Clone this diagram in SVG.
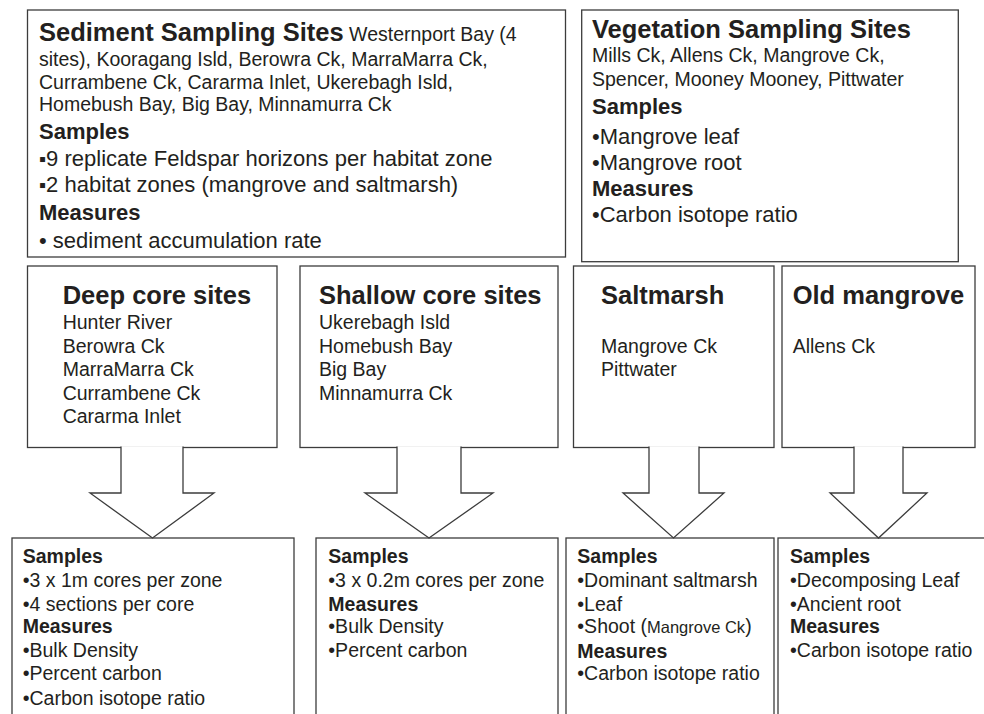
<svg xmlns="http://www.w3.org/2000/svg" width="984" height="714" viewBox="0 0 984 714">
<style>
text{font-family:"Liberation Sans",Arial,Helvetica,sans-serif;fill:#231f20}
.ti{font-size:25.5px;font-weight:bold}
.b{font-size:19.5px}
.h{font-size:22px;font-weight:bold}
.m{font-size:22px}
.hs{font-size:19.5px;font-weight:bold}
.sm{font-size:16.5px}
.box{fill:#fff;stroke:#3c3c3c;stroke-width:1.3}
.arr{fill:#fff;stroke:#3c3c3c;stroke-width:1.3;stroke-linejoin:miter}
</style>
<rect width="984" height="714" fill="#fff"/>

<g id="sediment-sites">
<rect class="box" x="27.5" y="10" width="538" height="247"/>
<text x="39" y="41"><tspan class="ti">Sediment Sampling Sites</tspan><tspan class="b"> Westernport Bay (4</tspan></text>
<text class="b" x="39" y="65.5">sites), Kooragang Isld, Berowra Ck, MarraMarra Ck,</text>
<text class="b" x="39" y="88.5">Currambene Ck, Cararma Inlet, Ukerebagh Isld,</text>
<text class="b" x="39" y="111">Homebush Bay, Big Bay, Minnamurra Ck</text>
<text class="h" x="39" y="139">Samples</text>
<text class="m" x="39" y="166"><tspan font-size="20">▪</tspan>9 replicate Feldspar horizons per habitat zone</text>
<text class="m" x="39" y="192"><tspan font-size="20">▪</tspan>2 habitat zones (mangrove and saltmarsh)</text>
<text class="h" x="39" y="220">Measures</text>
<text class="m" x="39" y="248">• sediment accumulation rate</text>
</g>

<g id="vegetation-sites">
<rect class="box" x="581.7" y="10" width="376.6" height="251.7"/>
<text class="ti" x="592" y="38">Vegetation Sampling Sites</text>
<text class="b" x="592" y="62">Mills Ck, Allens Ck, Mangrove Ck,</text>
<text class="b" x="592" y="86">Spencer, Mooney Mooney, Pittwater</text>
<text class="h" x="592" y="114">Samples</text>
<text class="m" x="592" y="144">•Mangrove leaf</text>
<text class="m" x="592" y="170">•Mangrove root</text>
<text class="h" x="592" y="196">Measures</text>
<text class="m" x="592" y="222">•Carbon isotope ratio</text>
</g>

<g id="deep-core">
<rect class="box" x="27.5" y="266" width="249.5" height="181.5"/>
<text class="ti" x="62.7" y="304">Deep core sites</text>
<text class="b" x="62.7" y="329">Hunter River</text>
<text class="b" x="62.7" y="352.7">Berowra Ck</text>
<text class="b" x="62.7" y="376">MarraMarra Ck</text>
<text class="b" x="62.7" y="399.5">Currambene Ck</text>
<text class="b" x="62.7" y="423.3">Cararma Inlet</text>
</g>

<g id="shallow-core">
<rect class="box" x="300" y="266" width="258" height="181.5"/>
<text class="ti" x="319" y="304">Shallow core sites</text>
<text class="b" x="319" y="329">Ukerebagh Isld</text>
<text class="b" x="319" y="352.7">Homebush Bay</text>
<text class="b" x="319" y="376">Big Bay</text>
<text class="b" x="319" y="399.5">Minnamurra Ck</text>
</g>

<g id="saltmarsh">
<rect class="box" x="573.5" y="266" width="200.5" height="181.5"/>
<text class="ti" x="601" y="304">Saltmarsh</text>
<text class="b" x="601" y="352.7">Mangrove Ck</text>
<text class="b" x="601" y="376">Pittwater</text>
</g>

<g id="old-mangrove">
<rect class="box" x="782" y="266" width="193" height="181.5"/>
<text class="ti" x="792.7" y="304">Old mangrove</text>
<text class="b" x="792.7" y="352.7">Allens Ck</text>
</g>

<g id="deep-measures">
<rect class="box" x="12" y="538" width="282" height="200"/>
<text class="hs" x="22.7" y="563.3">Samples</text>
<text class="b" x="22.7" y="587.3">•3 x 1m cores per zone</text>
<text class="b" x="22.7" y="610.7">•4 sections per core</text>
<text class="hs" x="22.7" y="633.3">Measures</text>
<text class="b" x="22.7" y="656.7">•Bulk Density</text>
<text class="b" x="22.7" y="680">•Percent carbon</text>
<text class="b" x="22.7" y="705">•Carbon isotope ratio</text>
</g>

<g id="shallow-measures">
<rect class="box" x="316" y="538" width="242" height="200"/>
<text class="hs" x="328.3" y="563.3">Samples</text>
<text class="b" x="328.3" y="587.3">•3 x 0.2m cores per zone</text>
<text class="hs" x="328.3" y="610.7">Measures</text>
<text class="b" x="328.3" y="633.3">•Bulk Density</text>
<text class="b" x="328.3" y="656.7">•Percent carbon</text>
</g>

<g id="saltmarsh-measures">
<rect class="box" x="566" y="538" width="208" height="200"/>
<text class="hs" x="577.3" y="563.3">Samples</text>
<text class="b" x="577.3" y="587.3">•Dominant saltmarsh</text>
<text class="b" x="577.3" y="610.7">•Leaf</text>
<text class="b" x="577.3" y="633.3">•Shoot (<tspan class="sm">Mangrove Ck</tspan>)</text>
<text class="hs" x="577.3" y="657.5">Measures</text>
<text class="b" x="577.3" y="680">•Carbon isotope ratio</text>
</g>

<g id="old-mangrove-measures">
<rect class="box" x="778" y="538" width="220" height="200"/>
<text class="hs" x="790" y="563.3">Samples</text>
<text class="b" x="790" y="587.3">•Decomposing Leaf</text>
<text class="b" x="790" y="610.7">•Ancient root</text>
<text class="hs" x="790" y="633.3">Measures</text>
<text class="b" x="790" y="656.7">•Carbon isotope ratio</text>
</g>

<g id="connectors">
<path class="arr" d="M183 446.6 V493 H214 L152.5 538 L90 493 H121 V446.6"/>
<path class="arr" d="M461 446.6 V493 H493 L429 538 L365 493 H397 V446.6"/>
<path class="arr" d="M699 446.6 V493 H724 L673.5 538 L623 493 H649 V446.6"/>
<path class="arr" d="M903 446.6 V493 H927 L878.5 538 L830 493 H854 V446.6"/>
</g>
</svg>
